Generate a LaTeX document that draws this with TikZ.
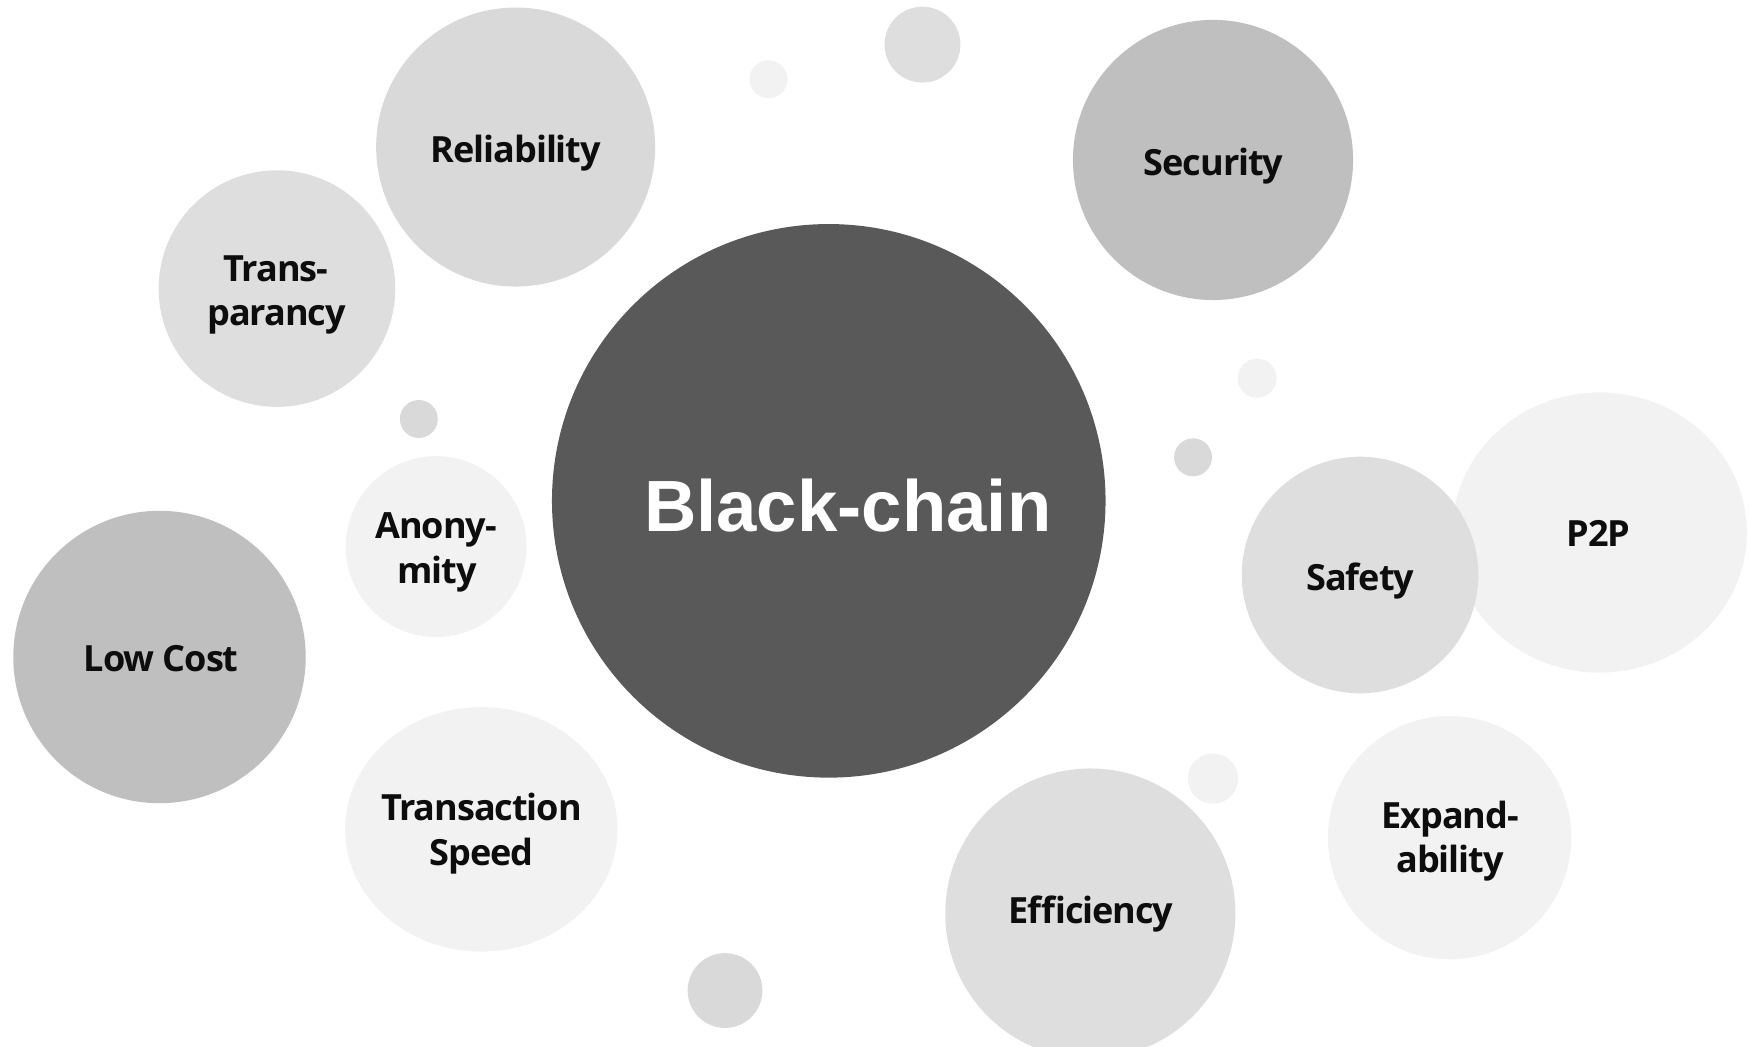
\documentclass[tikz,border=0pt]{standalone}
\usepackage{fontspec}
\newfontfamily\opensans[LetterSpace=-3]{Open Sans}
\newfontfamily\headfont{Liberation Sans}
\usepackage{tikz}
\usetikzlibrary{shapes.geometric}

\definecolor{bcdark}{HTML}{595959}
\definecolor{bcmid}{HTML}{BFBFBF}
\definecolor{bclight}{HTML}{D9D9D9}
\definecolor{bcpale}{HTML}{DEDEDE}
\definecolor{bcfaint}{HTML}{F2F2F2}

\begin{document}
\begin{tikzpicture}[x=0.01cm,y=-0.01cm,
  bubble/.style={circle,fill=#1,inner sep=0pt,outer sep=0pt},
  oval/.style={ellipse,fill=#1,inner sep=0pt,outer sep=0pt},
  lbl/.style={anchor=base,inner sep=0pt,text=black!95,font=\opensans\bfseries\fontsize{9.2}{11}\selectfont}]
\useasboundingbox (0,0) rectangle (1568,938);
\clip (0,0) rectangle (1568,938);

% small dots
\foreach \x/\y/\s/\c [count=\i] in {689/71/0.34/bcfaint, 827/40/0.68/bcpale, 375.5/375.6/0.34/bclight,
  1127/339/0.35/bcfaint, 1069.6/410/0.34/bclight, 1087.5/698/0.45/bcfaint, 650/888/0.67/bclight}
  \node[bubble=\c,minimum size=\s cm] (dot\i) at (\x,\y) {};

% bubbles
\node[bubble=bcmid,minimum size=2.51cm] (security) at (1087.5,143.4) {};
\node[bubble=bclight,minimum size=2.50cm] (reliability) at (462.3,131.8) {};
\node[bubble=bcpale,minimum size=2.12cm] (transparancy) at (248.3,258.7) {};
\node[bubble=bcdark,minimum size=4.96cm] (blackchain) at (743,449) {};
\node[bubble=bcfaint,minimum size=1.62cm] (anonymity) at (391,490) {};
\node[bubble=bcmid,minimum size=2.62cm] (lowcost) at (143,589) {};
\node[oval=bcfaint,minimum width=2.44cm,minimum height=2.19cm] (speed) at (431.5,743.5) {};
\node[oval=bcfaint,minimum width=2.64cm,minimum height=2.51cm] (ptp) at (1434,477.4) {};
\node[bubble=bcpale,minimum size=2.12cm] (safety) at (1219.3,515.5) {};
\node[bubble=bcfaint,minimum size=2.18cm] (expand) at (1299.6,751) {};
\node[bubble=bcpale,minimum size=2.60cm] (efficiency) at (977.5,819) {};

% labels
\node[anchor=base,inner sep=0pt,text=white,font=\headfont\bfseries\fontsize{18.5}{20}\selectfont] (t-bc) at (760,476.7) {Black-chain};
\node[lbl] (t-rel) at (462.5,145.5) {Reliability};
\node[lbl] (t-sec) at (1088,157.5) {Security};
\node[lbl] (t-tra1) at (247.5,252) {Trans-};
\node[lbl] (t-tra2) at (248,291.4) {parancy};
\node[lbl] (t-ano1) at (391,483) {Anony-};
\node[lbl] (t-ano2) at (392,523) {mity};
\node[lbl] (t-low) at (144.5,602.3) {Low Cost};
\node[lbl] (t-spd1) at (431.7,735.5) {Transaction};
\node[lbl] (t-spd2) at (431.7,775.9) {Speed};
\node[lbl] (t-eff) at (977.8,827.8) {Efficiency};
\node[lbl] (t-exp1) at (1300,742.9) {Expand-};
\node[lbl] (t-exp2) at (1300,782.5) {ability};
\node[lbl] (t-saf) at (1219.5,529) {Safety};
\node[lbl] (t-ptp) at (1433,490) {P2P};
\end{tikzpicture}
\end{document}
